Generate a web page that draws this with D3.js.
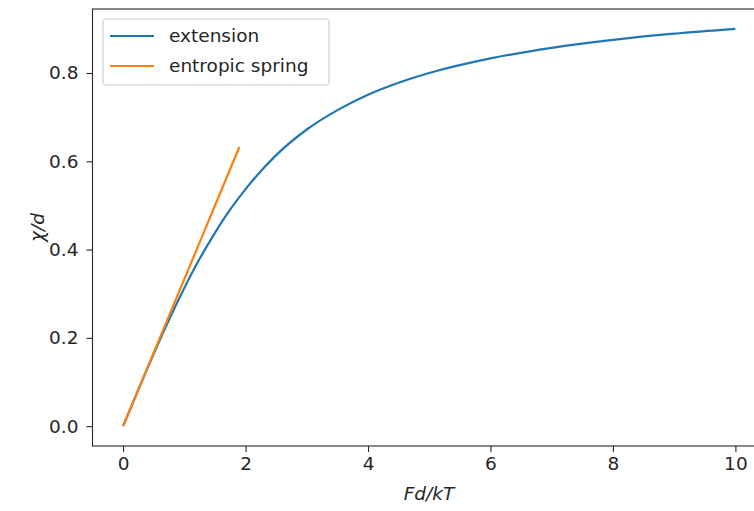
<!DOCTYPE html>
<html>
<head>
<meta charset="utf-8">
<script src="https://cdn.jsdelivr.net/npm/d3@7.9.0/dist/d3.min.js"></script>
<style>
  body { margin: 0; background: #fff; }
  svg { font-family: "DejaVu Sans", sans-serif; }
</style>
</head>
<body>
<svg id="chart" width="754" height="511"></svg>
<script>
// values
const extX = [0, 0.25, 0.5, 0.75, 1, 1.25, 1.5, 1.75, 2, 2.5, 3, 3.5, 4, 4.5, 5, 6, 7, 8, 9, 10];
const extY = [0, 0.083, 0.164, 0.241, 0.313, 0.379, 0.438, 0.491, 0.537, 0.614, 0.672, 0.716, 0.751, 0.778, 0.800, 0.833, 0.857, 0.875, 0.889, 0.900];
const springX = [0, 1.9];
const springY = [0, 0.633];
const xTicks = [0, 2, 4, 6, 8, 10];
const yTicks = [0.0, 0.2, 0.4, 0.6, 0.8];

const fontSize = 18.5;
const ink = '#262626';

const svg = d3.select('#chart');

const x = d3.scaleLinear().domain([-0.5, 10.5]).range([92.5, 766]);
const y = d3.scaleLinear().domain([-0.045, 0.945]).range([446, 9]);

const line = d3.line()
    .x((d) => x(d[0]))
    .y((d) => y(d[1]))
    .curve(d3.curveMonotoneX);

// axes
const xAxis = svg.append('g')
    .attr('transform', `translate(0,${y.range()[0]})`)
    .call(d3.axisBottom(x).tickValues(xTicks).tickSize(6).tickPadding(5).tickFormat(d3.format('d')));
const yAxis = svg.append('g')
    .attr('transform', `translate(${x.range()[0]},0)`)
    .call(d3.axisLeft(y).tickValues(yTicks).tickSize(6).tickPadding(8).tickFormat(d3.format('.1f')));

[xAxis, yAxis].forEach((g) => {
    g.select('.domain').remove();
    g.selectAll('text').attr('font-size', fontSize).attr('fill', ink).attr('font-family', '"DejaVu Sans", sans-serif');
    g.selectAll('line').attr('stroke', ink).attr('stroke-width', 1.1);
});

// spines
svg.append('rect')
    .attr('x', x.range()[0])
    .attr('y', y.range()[1])
    .attr('width', x.range()[1] - x.range()[0])
    .attr('height', y.range()[0] - y.range()[1])
    .attr('fill', 'none')
    .attr('stroke', ink)
    .attr('stroke-width', 1.1);

// series
svg.append('path')
    .datum(extX.map((v, i) => [v, extY[i]]))
    .attr('d', line)
    .attr('fill', 'none')
    .attr('stroke', '#1f77b4')
    .attr('stroke-width', 2.2);

svg.append('path')
    .datum(springX.map((v, i) => [v, springY[i]]))
    .attr('d', d3.line().x((d) => x(d[0])).y((d) => y(d[1])))
    .attr('fill', 'none')
    .attr('stroke', '#ff7f0e')
    .attr('stroke-width', 2.2);

// axis labels
svg.append('text')
    .attr('x', 429)
    .attr('y', 500)
    .attr('text-anchor', 'middle')
    .attr('font-size', fontSize)
    .attr('font-style', 'italic')
    .attr('fill', ink)
    .text('Fd/kT');

svg.append('text')
    .attr('transform', `translate(44,${(y.range()[0] + y.range()[1]) / 2}) rotate(-90)`)
    .attr('text-anchor', 'middle')
    .attr('font-size', fontSize)
    .attr('font-style', 'italic')
    .attr('fill', ink)
    .text('χ/d');

// legend
const legendItems = [
    { label: 'extension', color: '#1f77b4' },
    { label: 'entropic spring', color: '#ff7f0e' },
];
const legend = svg.append('g').attr('transform', 'translate(103,19)');
legend.append('rect')
    .attr('width', 226)
    .attr('height', 66)
    .attr('rx', 3)
    .attr('fill', 'white')
    .attr('fill-opacity', 0.8)
    .attr('stroke', '#cccccc');
legend.selectAll('g.item')
    .data(legendItems)
    .join('g')
    .attr('class', 'item')
    .attr('transform', (d, i) => `translate(0,${17 + i * 30})`)
    .each(function (d) {
        const g = d3.select(this);
        g.append('line')
            .attr('x1', 7).attr('x2', 51)
            .attr('stroke', d.color)
            .attr('stroke-width', 2.2);
        g.append('text')
            .attr('x', 66)
            .attr('dy', '0.35em')
            .attr('font-size', fontSize)
            .attr('fill', ink)
            .text(d.label);
    });
</script>
</body>
</html>
